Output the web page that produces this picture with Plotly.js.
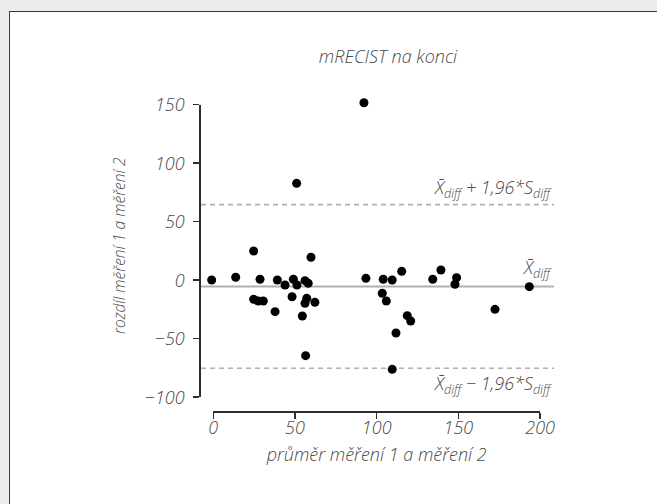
<!DOCTYPE html>
<html>
<head>
<meta charset="utf-8">
<script src="https://cdn.plot.ly/plotly-3.0.1.min.js"></script>
<style>
  html, body { margin: 0; padding: 0; width: 657px; height: 504px; overflow: hidden; background: #ececec; }
  #frame { position: absolute; left: 9px; top: 11px; width: 648px; height: 493px; background: #fff;
           border-left: 1px solid #3a3a3a; border-top: 1px solid #3a3a3a; box-sizing: border-box; }
  #chart { position: absolute; left: 10px; top: 12px; width: 647px; height: 492px; }
</style>
</head>
<body>
<div id="frame"></div>
<div id="chart"></div>
<script>
// Bland–Altman plot: average of the two measurements vs. their difference
const pairMean = [
  -1.0, 13.7, 24.7, 28.6, 24.7, 27.5, 30.6, 37.8, 39.2, 43.9,
  49.0, 51.2, 48.2, 56.1, 58.1, 57.2, 56.1, 62.2, 54.5, 59.8,
  56.5, 51.0, 92.2, 93.4, 104.0, 109.5, 115.3, 103.4, 105.9, 118.7,
  120.8, 111.8, 109.5, 134.3, 139.3, 148.9, 147.9, 172.4, 193.4
];
const pairDiff = [
  0.2, 2.5, 25.0, 0.8, -16.3, -17.8, -17.8, -26.9, 0.2, -4.1,
  0.8, -4.1, -14.1, -0.4, -2.7, -15.5, -19.8, -18.9, -30.6, 19.6,
  -64.5, 82.8, 151.7, 1.6, 0.8, 0.2, 7.6, -11.2, -17.8, -30.3,
  -34.9, -45.1, -76.2, 0.8, 8.7, 2.2, -3.5, -24.9, -5.5
];

// mean difference and limits of agreement
const meanDiff = -5.4;
const upperLimit = 64.6;
const lowerLimit = -75.2;
const limitSpan = [-7.5, 208.5];

const xTickVals = [0, 50, 100, 150, 200];
const yTickVals = [-100, -50, 0, 50, 100, 150];

const chartTitle = 'mRECIST na konci';
const xTitle = 'průměr měření 1 a měření 2';
const yTitle = 'rozdíl měření 1 a měření 2';
const xbar = 'X\u0304<sub>diff</sub>';
const upperText = xbar + ' + 1,96*S<sub>diff</sub>';
const meanText = xbar;
const lowerText = xbar + ' \u2212 1,96*S<sub>diff</sub>';

// ---- geometry (pixels inside the chart div) ----
const W = 647, H = 492;
const area = { l: 186, r: 550, t: 83, b: 403 };
const pw = area.r - area.l, ph = area.b - area.t;
const x0px = 203.3, xStep = 1.634;   // pixel of x = 0, pixels per unit
const y0px = 268.2, yStep = 1.17;    // pixel of y = 0, pixels per unit
const pxToX = p => (p - x0px) / xStep;
const pxToY = p => (y0px - p) / yStep;
const fracX = v => (x0px + v * xStep - area.l) / pw;
const fracY = v => (area.b - (y0px - v * yStep)) / ph;
const xSpinePx = 399;    // y pixel of bottom spine
const ySpinePx = 189.3;  // x pixel of left spine

const FONT = '"Open Sans", "Noto Sans", sans-serif';
const TXT = '#4a4a4a';
const INK = '#2e2e2e';
const textFont = size => ({ family: FONT, size: size, color: TXT, style: 'italic', weight: 300 });

const refLine = (y, dash, width) => ({
  type: 'scatter', mode: 'lines',
  x: limitSpan, y: [y, y],
  line: { color: '#b0b0b0', width: width, dash: dash },
  hoverinfo: 'skip', showlegend: false
});

const traces = [
  refLine(upperLimit, '5px,4px', 1.6),
  refLine(lowerLimit, '5px,4px', 1.6),
  refLine(meanDiff, 'solid', 2),
  {
    type: 'scatter', mode: 'markers',
    x: pairMean, y: pairDiff,
    marker: { color: '#000', size: 9 },
    showlegend: false
  },
  // carrier for the spine axes
  { type: 'scatter', mode: 'markers', x: [], y: [], xaxis: 'x2', yaxis: 'y2', showlegend: false, hoverinfo: 'skip' }
];

const layout = {
  width: W, height: H,
  margin: { l: area.l, r: W - area.r, t: area.t, b: H - area.b, pad: 0 },
  paper_bgcolor: 'rgba(0,0,0,0)',
  plot_bgcolor: 'rgba(0,0,0,0)',
  showlegend: false,
  title: {
    text: chartTitle,
    font: textFont(18),
    x: 378 / W, xanchor: 'center',
    y: 1 - 45 / H, yanchor: 'middle'
  },
  xaxis: { domain: [0, 1], range: [pxToX(area.l), pxToX(area.r)], visible: false, fixedrange: true },
  yaxis: { domain: [0, 1], range: [pxToY(area.b), pxToY(area.t)], visible: false, fixedrange: true },
  xaxis2: {
    domain: [fracX(0), fracX(200)], range: [0, 200],
    anchor: 'free', position: (area.b - xSpinePx) / ph, side: 'bottom',
    showline: true, linecolor: INK, linewidth: 1.5,
    ticks: 'outside', ticklen: 6, tickwidth: 1.5, tickcolor: INK,
    tickvals: xTickVals, tickfont: textFont(18), ticklabelstandoff: -6,
    showgrid: false, zeroline: false, fixedrange: true,
    title: { text: xTitle, font: textFont(18), standoff: 10 }
  },
  yaxis2: {
    domain: [fracY(-100), fracY(150)], range: [-100, 150],
    anchor: 'free', position: (ySpinePx - area.l) / pw, side: 'left',
    showline: true, linecolor: INK, linewidth: 1.5,
    ticks: 'outside', ticklen: 6, tickwidth: 1.5, tickcolor: INK,
    tickvals: yTickVals, tickfont: textFont(18), ticklabelstandoff: 5,
    showgrid: false, zeroline: false, fixedrange: true
  },
  annotations: [
    { text: upperText, xref: 'x', yref: 'y', x: limitSpan[1], y: upperLimit,
      xanchor: 'right', yanchor: 'bottom', yshift: 1, showarrow: false, font: textFont(18) },
    { text: meanText, xref: 'x', yref: 'y', x: limitSpan[1], y: meanDiff,
      xanchor: 'right', yanchor: 'bottom', yshift: 3, showarrow: false, font: textFont(18) },
    { text: lowerText, xref: 'x', yref: 'y', x: limitSpan[1], y: lowerLimit,
      xanchor: 'right', yanchor: 'top', yshift: -1, showarrow: false, font: textFont(18) },
    { text: yTitle, xref: 'paper', yref: 'paper',
      x: (109 - area.l) / pw, y: (area.b - 234) / ph,
      xanchor: 'center', yanchor: 'middle', textangle: -90, showarrow: false, font: textFont(15.5) }
  ]
};

Plotly.newPlot('chart', traces, layout, { displayModeBar: false, staticPlot: true });
</script>
</body>
</html>
